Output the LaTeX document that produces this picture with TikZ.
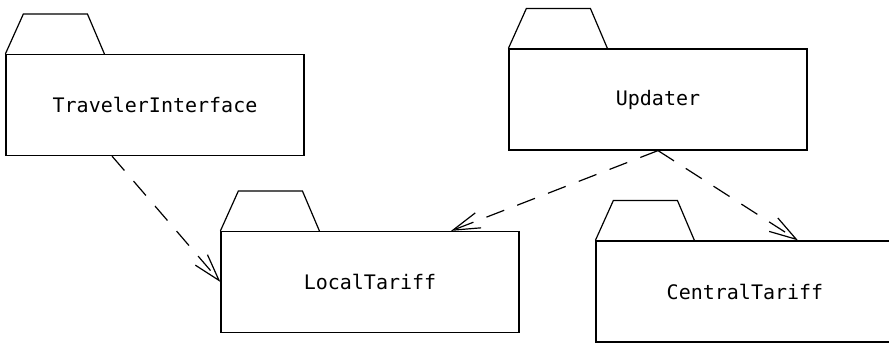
\documentclass[tikz,border=0pt]{standalone}
\usepackage{fontspec}
\setmonofont{DejaVu Sans Mono}
\usetikzlibrary{arrows.meta}
\begin{document}
\begin{tikzpicture}
		[x=0.5pt,y=0.5pt,line width=0.6pt,
		pkg/.style={draw,minimum width=149pt,minimum height=50.5pt,inner sep=0pt,font=\ttfamily\fontsize{10}{12}\selectfont},
		dep/.style={dash pattern=on 9.5pt off 7pt,-{Straight Barb[length=13.5pt,width=8pt]}}]
		\useasboundingbox (0,0) rectangle (889,-343);
		\clip (0,0) rectangle (889,-343);
		\node[pkg] (trav) at (155,-105) {TravelerInterface};
		\node[pkg] (upd) at (658,-99.5) {Updater};
		\node[pkg] (local) at (370,-282) {LocalTariff};
		\node[pkg] (central) at (745,-291.5) {CentralTariff};
		% package tabs
		\foreach \n in {trav,upd,local,central}
			\draw (\n.north west) -- ++(18,40) -- ++(64,0) -- ++(17,-40);
		\draw[dep] ([xshift=-21.5pt]trav.south) -- (local.west);
		\draw[dep] (upd.south) -- ([xshift=40.5pt]local.north);
		\draw[dep] (upd.south) -- ([xshift=26.5pt]central.north);
	\end{tikzpicture}
\end{document}
